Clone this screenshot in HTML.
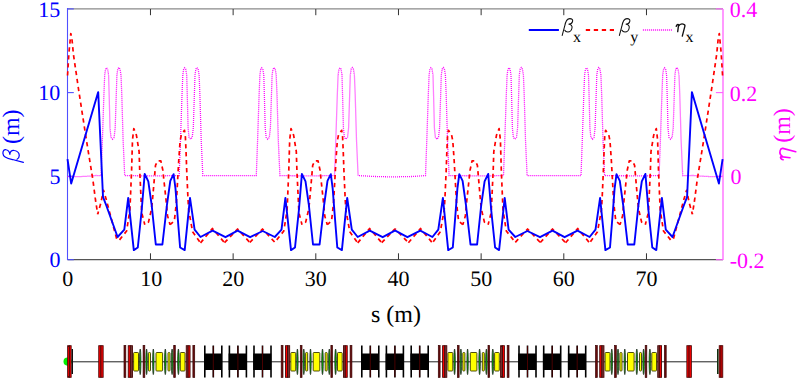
<!DOCTYPE html>
<html><head><meta charset="utf-8"><style>
html,body{margin:0;padding:0;background:#fff;width:797px;height:380px;overflow:hidden}
svg{display:block}
text{font-family:"Liberation Serif",serif;text-rendering:geometricPrecision}
</style></head><body>
<svg width="797" height="380" viewBox="0 0 797 380">
<rect width="797" height="380" fill="#fff"/>
<!-- frame -->
<line x1="67.5" y1="8.9" x2="723" y2="8.9" stroke="#8a8a8a" stroke-width="1.1"/>
<line x1="67.5" y1="259.7" x2="723" y2="259.7" stroke="#555" stroke-width="1.3"/>
<line x1="67.5" y1="8" x2="67.5" y2="260" stroke="#5050ff" stroke-width="1.1"/>
<line x1="723" y1="9" x2="723" y2="260" stroke="#ff80ff" stroke-width="1.6"/>
<line x1="150.47" y1="259.5" x2="150.47" y2="253.3" stroke="#333" stroke-width="1"/><line x1="150.47" y1="9" x2="150.47" y2="15.2" stroke="#333" stroke-width="1"/><line x1="233.13" y1="259.5" x2="233.13" y2="253.3" stroke="#333" stroke-width="1"/><line x1="233.13" y1="9" x2="233.13" y2="15.2" stroke="#333" stroke-width="1"/><line x1="315.80" y1="259.5" x2="315.80" y2="253.3" stroke="#333" stroke-width="1"/><line x1="315.80" y1="9" x2="315.80" y2="15.2" stroke="#333" stroke-width="1"/><line x1="398.47" y1="259.5" x2="398.47" y2="253.3" stroke="#333" stroke-width="1"/><line x1="398.47" y1="9" x2="398.47" y2="15.2" stroke="#333" stroke-width="1"/><line x1="481.14" y1="259.5" x2="481.14" y2="253.3" stroke="#333" stroke-width="1"/><line x1="481.14" y1="9" x2="481.14" y2="15.2" stroke="#333" stroke-width="1"/><line x1="563.80" y1="259.5" x2="563.80" y2="253.3" stroke="#333" stroke-width="1"/><line x1="563.80" y1="9" x2="563.80" y2="15.2" stroke="#333" stroke-width="1"/><line x1="646.47" y1="259.5" x2="646.47" y2="253.3" stroke="#333" stroke-width="1"/><line x1="646.47" y1="9" x2="646.47" y2="15.2" stroke="#333" stroke-width="1"/><line x1="67.5" y1="8.9" x2="73.8" y2="8.9" stroke="#5050ff" stroke-width="1.1"/><line x1="723" y1="8.9" x2="715.9" y2="8.9" stroke="#ff60ff" stroke-width="1.1"/><line x1="67.5" y1="92.6" x2="73.8" y2="92.6" stroke="#5050ff" stroke-width="1.1"/><line x1="723" y1="92.6" x2="715.9" y2="92.6" stroke="#ff60ff" stroke-width="1.1"/><line x1="67.5" y1="176.2" x2="73.8" y2="176.2" stroke="#5050ff" stroke-width="1.1"/><line x1="723" y1="176.2" x2="715.9" y2="176.2" stroke="#ff60ff" stroke-width="1.1"/><line x1="67.5" y1="259.7" x2="73.8" y2="259.7" stroke="#5050ff" stroke-width="1.1"/><line x1="723" y1="259.7" x2="715.9" y2="259.7" stroke="#ff60ff" stroke-width="1.1"/>
<!-- curves -->
<polyline points="67.5,176.7 80.0,176.6 90.0,176.1 96.0,175.5 101.1,175.6 102.4,140.0 103.9,95.0 104.7,75.0 105.5,69.5 106.5,67.8 107.6,69.0 108.6,75.0 109.3,100.0 110.0,128.0 111.0,137.5 112.5,139.2 114.1,137.5 115.2,128.0 116.1,100.0 116.9,75.0 117.8,69.0 118.9,67.5 120.0,69.0 121.0,75.0 121.8,95.0 123.1,140.0 124.7,175.6 150.5,175.9 179.2,175.6 180.5,140.0 182.0,95.0 182.8,75.0 183.6,69.5 184.6,67.8 185.7,69.0 186.7,75.0 187.4,100.0 188.1,128.0 189.1,137.5 190.6,139.2 192.2,137.5 193.3,128.0 194.2,100.0 195.0,75.0 195.9,69.0 197.0,67.5 198.1,69.0 199.1,75.0 199.9,95.0 201.2,140.0 202.8,175.6 230.5,175.7 256.3,175.6 257.6,140.0 259.1,95.0 259.9,75.0 260.7,69.5 261.7,67.8 262.8,69.0 263.8,75.0 264.5,100.0 265.2,128.0 266.2,137.5 267.7,139.2 269.3,137.5 270.4,128.0 271.3,100.0 272.1,75.0 273.0,69.0 274.1,67.5 275.2,69.0 276.2,75.0 277.0,95.0 278.3,140.0 279.9,175.6 308.0,175.9 334.5,175.6 335.8,140.0 337.3,95.0 338.1,75.0 338.9,69.5 339.9,67.8 341.0,69.0 342.0,75.0 342.7,100.0 343.4,128.0 344.4,137.5 345.9,139.2 347.5,137.5 348.6,128.0 349.5,100.0 350.3,75.0 351.2,69.0 352.3,67.5 353.4,69.0 354.4,75.0 355.2,95.0 356.5,140.0 358.1,175.6 375.0,176.5 392.0,176.9 412.0,176.5 425.5,175.6 426.8,140.0 428.3,95.0 429.1,75.0 429.9,69.5 430.9,67.8 432.0,69.0 433.0,75.0 433.7,100.0 434.4,128.0 435.4,137.5 436.9,139.2 438.5,137.5 439.6,128.0 440.5,100.0 441.3,75.0 442.2,69.0 443.3,67.5 444.4,69.0 445.4,75.0 446.2,95.0 447.5,140.0 449.1,175.6 485.0,175.9 503.5,175.6 504.8,140.0 506.3,95.0 507.1,75.0 507.9,69.5 508.9,67.8 510.0,69.0 511.0,75.0 511.7,100.0 512.4,128.0 513.4,137.5 514.9,139.2 516.5,137.5 517.6,128.0 518.5,100.0 519.3,75.0 520.2,69.0 521.3,67.5 522.4,69.0 523.4,75.0 524.2,95.0 525.5,140.0 527.1,175.6 562.0,175.7 581.0,175.6 582.3,140.0 583.8,95.0 584.6,75.0 585.4,69.5 586.4,67.8 587.5,69.0 588.5,75.0 589.2,100.0 589.9,128.0 590.9,137.5 592.4,139.2 594.0,137.5 595.1,128.0 596.0,100.0 596.8,75.0 597.7,69.0 598.8,67.5 599.9,69.0 600.9,75.0 601.7,95.0 603.0,140.0 604.6,175.6 640.0,175.9 659.1,175.6 660.4,140.0 661.9,95.0 662.7,75.0 663.5,69.5 664.5,67.8 665.6,69.0 666.6,75.0 667.3,100.0 668.0,128.0 669.0,137.5 670.5,139.2 672.1,137.5 673.2,128.0 674.1,100.0 674.9,75.0 675.8,69.0 676.9,67.5 678.0,69.0 679.0,75.0 679.8,95.0 681.1,140.0 682.7,175.6 694.0,175.5 700.0,176.1 710.0,176.6 722.5,176.7" fill="none" stroke="#ff00ff" stroke-width="1.3" stroke-dasharray="1 1"/>
<g fill="none" stroke="#ff0000" stroke-width="1.7" stroke-dasharray="4.3 3.7" stroke-linejoin="round"><polyline points="67.5,76.0 69.0,52.0 70.0,42.0 70.8,33.5 71.9,38.4 73.4,54.2 78.8,91.0 86.4,140.0 92.9,180.0 95.5,200.0 97.7,214.2" stroke-dashoffset="7.52"/><polyline points="97.7,214.2 100.8,203.2 103.5,190.3 106.1,198.9 110.8,216.8 117.6,242.3" stroke-dashoffset="1.54"/><polyline points="117.6,242.3 126.6,231.0 129.9,210.0 131.6,170.0 132.5,140.0 133.8,128.6 136.4,135.1 139.1,151.6 139.7,170.0 141.7,212.6 144.8,224.7" stroke-dashoffset="4.92"/><polyline points="144.8,224.7 148.5,222.1 151.2,210.5 152.2,203.2 155.5,165.4 157.5,161.0 160.8,160.8 162.8,170.0 166.4,203.2 167.5,215.8 170.1,224.7" stroke-dashoffset="4.27"/><polyline points="170.1,224.7 174.3,221.0 175.4,211.6 176.4,202.1 178.2,170.0 178.8,159.5 180.1,141.0 181.4,134.5 184.5,130.3 185.4,137.1 186.1,152.9 186.7,170.0 188.0,199.2 188.7,210.0 192.6,231.7 200.5,242.9" stroke-dashoffset="0.47"/><polyline points="200.5,242.9 212.4,228.5 224.5,242.7" stroke-dashoffset="0.00"/><polyline points="224.5,242.7 237.6,229.0 249.8,242.5" stroke-dashoffset="0.00"/><polyline points="249.8,242.5 262.5,229.0 274.8,242.3" stroke-dashoffset="0.00"/><polyline points="274.8,242.3 283.8,231.0 287.1,210.0 288.8,170.0 289.7,140.0 291.0,128.6 293.6,135.1 296.3,151.6 296.9,170.0 298.9,212.6 302.0,224.7" stroke-dashoffset="4.92"/><polyline points="302.0,224.7 305.7,222.1 308.4,210.5 309.4,203.2 312.7,165.4 314.7,161.0 318.0,160.8 320.0,170.0 323.6,203.2 324.7,215.8 327.3,224.7" stroke-dashoffset="4.27"/><polyline points="327.3,224.7 331.5,221.0 332.6,211.6 333.6,202.1 335.4,170.0 336.0,159.5 337.3,141.0 338.6,134.5 341.7,130.3 342.6,137.1 343.3,152.9 343.9,170.0 345.2,199.2 345.9,210.0 349.8,231.7 357.7,242.9" stroke-dashoffset="0.47"/><polyline points="357.7,242.9 369.6,228.5 381.7,242.7" stroke-dashoffset="0.00"/><polyline points="381.7,242.7 394.8,229.0 395.3,229.0 408.4,242.7" stroke-dashoffset="0.00"/><polyline points="408.4,242.7 420.5,228.5 432.4,242.9" stroke-dashoffset="0.00"/><polyline points="432.4,242.9 440.3,231.7 444.2,210.0 444.9,199.2 446.2,170.0 446.8,152.9 447.5,137.1 448.4,130.3 451.5,134.5 452.8,141.0 454.1,159.5 454.7,170.0 456.5,202.1 457.5,211.6 458.6,221.0 462.8,224.7" stroke-dashoffset="6.56"/><polyline points="462.8,224.7 465.4,215.8 466.5,203.2 470.1,170.0 472.1,160.8 475.4,161.0 477.4,165.4 480.7,203.2 481.7,210.5 484.4,222.1 488.1,224.7" stroke-dashoffset="1.42"/><polyline points="488.1,224.7 491.2,212.6 493.2,170.0 493.8,151.6 496.5,135.1 499.1,128.6 500.4,140.0 501.3,170.0 503.0,210.0 506.3,231.0 515.3,242.3" stroke-dashoffset="0.88"/><polyline points="515.3,242.3 527.6,229.0 540.3,242.5" stroke-dashoffset="0.00"/><polyline points="540.3,242.5 552.5,229.0 565.6,242.7" stroke-dashoffset="0.00"/><polyline points="565.6,242.7 577.7,228.5 589.6,242.9" stroke-dashoffset="0.00"/><polyline points="589.6,242.9 597.5,231.7 601.4,210.0 602.1,199.2 603.4,170.0 604.0,152.9 604.7,137.1 605.6,130.3 608.7,134.5 610.0,141.0 611.3,159.5 611.9,170.0 613.7,202.1 614.7,211.6 615.8,221.0 620.0,224.7" stroke-dashoffset="6.56"/><polyline points="620.0,224.7 622.6,215.8 623.7,203.2 627.3,170.0 629.3,160.8 632.6,161.0 634.6,165.4 637.9,203.2 638.9,210.5 641.6,222.1 645.3,224.7" stroke-dashoffset="1.42"/><polyline points="645.3,224.7 648.4,212.6 650.4,170.0 651.0,151.6 653.7,135.1 656.3,128.6 657.6,140.0 658.5,170.0 660.2,210.0 663.5,231.0 672.5,242.3" stroke-dashoffset="0.88"/><polyline points="672.5,242.3 679.3,216.8 684.0,198.9 686.6,190.3 689.3,203.2 692.4,214.2" stroke-dashoffset="4.27"/><polyline points="692.4,214.2 694.6,200.0 697.2,180.0 703.7,140.0 711.3,91.0 716.7,54.2 718.2,38.4 719.3,33.5 720.1,42.0 721.1,52.0 722.6,76.0" stroke-dashoffset="3.41"/></g>
<polyline points="67.5,159.1 71.2,183.6 98.2,92.1 103.0,196.8 106.3,205.5 117.6,237.0 124.3,229.7 128.2,197.9 133.8,250.1 137.8,247.5 141.7,210.0 144.7,173.9 148.3,181.4 151.6,204.5 155.8,244.5 162.4,244.5 167.0,204.5 170.3,180.8 173.6,174.2 175.5,188.7 177.5,215.0 180.1,247.5 184.7,250.1 190.0,197.9 194.6,229.7 200.5,237.0 212.6,230.7 225.5,237.2 237.6,230.7 250.1,237.2 262.7,231.0 274.8,237.0 281.5,229.7 285.4,197.9 291.0,250.1 295.0,247.5 298.9,210.0 301.9,173.9 305.5,181.4 308.8,204.5 313.0,244.5 319.6,244.5 324.2,204.5 327.5,180.8 330.8,174.2 332.7,188.7 334.7,215.0 337.3,247.5 341.9,250.1 347.2,197.9 351.8,229.7 357.7,237.0 369.8,230.7 382.7,237.2 394.8,230.7 395.3,230.7 407.4,237.2 420.3,230.7 432.4,237.0 438.3,229.7 442.9,197.9 448.2,250.1 452.8,247.5 455.4,215.0 457.4,188.7 459.3,174.2 462.6,180.8 465.9,204.5 470.5,244.5 477.1,244.5 481.3,204.5 484.6,181.4 488.2,173.9 491.2,210.0 495.1,247.5 499.1,250.1 504.7,197.9 508.6,229.7 515.3,237.0 527.4,231.0 540.0,237.2 552.5,230.7 564.6,237.2 577.5,230.7 589.6,237.0 595.5,229.7 600.1,197.9 605.4,250.1 610.0,247.5 612.6,215.0 614.6,188.7 616.5,174.2 619.8,180.8 623.1,204.5 627.7,244.5 634.3,244.5 638.5,204.5 641.8,181.4 645.4,173.9 648.4,210.0 652.3,247.5 656.3,250.1 661.9,197.9 665.8,229.7 672.5,237.0 683.8,205.5 687.1,196.8 691.9,92.1 718.9,183.6 722.6,159.1" fill="none" stroke="#0000ff" stroke-width="1.9" stroke-linejoin="round"/>
<!-- legend -->
<line x1="528.8" y1="30" x2="558.9" y2="30" stroke="#0000ff" stroke-width="2"/>
<line x1="585.8" y1="30" x2="614" y2="30" stroke="#ff0000" stroke-width="2" stroke-dasharray="4.3 3.7"/>
<line x1="642.9" y1="30" x2="672.6" y2="30" stroke="#ff00ff" stroke-width="1.3" stroke-dasharray="1 1"/>
<g fill="none" stroke="#111" stroke-width="1.05" stroke-linecap="round">
<path transform="translate(562,31.8)" d="M0.2,3.6 L2.6,-5.3 C3.3,-9.3 4.8,-13.2 7.8,-13.2 C10,-13.2 11,-12 10.6,-10.5 C10.2,-8.8 8.5,-7.6 6.5,-7.5 C9,-7.6 10.5,-6 10,-3.8 C9.5,-1.3 7.5,0.2 5.8,0.2 C4.3,0.2 3.2,-0.6 2.8,-1.6"/>
<path transform="translate(619.2,31.8)" d="M0.2,3.6 L2.6,-5.3 C3.3,-9.3 4.8,-13.2 7.8,-13.2 C10,-13.2 11,-12 10.6,-10.5 C10.2,-8.8 8.5,-7.6 6.5,-7.5 C9,-7.6 10.5,-6 10,-3.8 C9.5,-1.3 7.5,0.2 5.8,0.2 C4.3,0.2 3.2,-0.6 2.8,-1.6"/>
<path transform="translate(676.2,31.7)" d="M0,-5.3 C0.4,-7 1.8,-7.8 2.4,-7 L1.5,0 M2.3,-5.5 C3.5,-7.5 5.5,-8 7,-7.6 C8.5,-7.2 8.9,-6.3 8.7,-5.5 L6.1,4.4" stroke-width="1.35"/>
</g>
<g font-size="16" fill="#000">
<text x="573" y="41.5">x</text><text x="630.2" y="41.5">y</text><text x="685.5" y="41.5">x</text>
</g>
<!-- tick labels -->
<g font-size="22" fill="#000"><text x="67.80" y="286.3" text-anchor="middle">0</text><text x="151.27" y="286.3" text-anchor="middle">10</text><text x="233.13" y="286.3" text-anchor="middle">20</text><text x="315.80" y="286.3" text-anchor="middle">30</text><text x="398.47" y="286.3" text-anchor="middle">40</text><text x="481.14" y="286.3" text-anchor="middle">50</text><text x="563.80" y="286.3" text-anchor="middle">60</text><text x="646.47" y="286.3" text-anchor="middle">70</text></g>
<g font-size="22" fill="#0000ff" text-anchor="end">
<text x="60.3" y="16.6">15</text><text x="60.3" y="100.2">10</text><text x="60.6" y="183.6">5</text><text x="60.6" y="267.4">0</text>
</g>
<g font-size="22" fill="#ff00ff">
<text x="729.8" y="17">0.4</text><text x="729.8" y="100.6">0.2</text><text x="730.6" y="184">0</text><text x="729.8" y="267.5">-0.2</text>
</g>
<text x="370.9" y="322.2" font-size="24" fill="#000">s (m)</text>
<g transform="translate(19,162.7) rotate(-90)">
<path transform="scale(1.22)" d="M0.2,3.6 L2.6,-5.3 C3.3,-9.3 4.8,-13.2 7.8,-13.2 C10,-13.2 11,-12 10.6,-10.5 C10.2,-8.8 8.5,-7.6 6.5,-7.5 C9,-7.6 10.5,-6 10,-3.8 C9.5,-1.3 7.5,0.2 5.8,0.2 C4.3,0.2 3.2,-0.6 2.8,-1.6" fill="none" stroke="#0000ff" stroke-width="1.0" stroke-linecap="round"/>
<text x="18.6" y="0" font-size="24" fill="#0000ff">(m)</text>
</g>
<g transform="translate(790,159.7) rotate(-90)">
<path transform="scale(1.3)" d="M0,-5.3 C0.4,-7 1.8,-7.8 2.4,-7 L1.5,0 M2.3,-5.5 C3.5,-7.5 5.5,-8 7,-7.6 C8.5,-7.2 8.9,-6.3 8.7,-5.5 L6.1,4.4" fill="none" stroke="#ff00ff" stroke-width="1.25" stroke-linecap="round"/>
<text x="16.9" y="0" font-size="24" fill="#ff00ff">(m)</text>
</g>
<!-- lattice -->
<line x1="67" y1="361.8" x2="718" y2="361.8" stroke="#222" stroke-width="1"/>
<circle cx="67.6" cy="361.6" r="4.1" fill="#00ee00"/>
<rect x="67.65" y="345.7" width="1.75" height="31.6" fill="#ff0000" stroke="#4a0808" stroke-width="0.9"/>
<rect x="69.40" y="345.7" width="1.75" height="31.6" fill="#ff0000" stroke="#4a0808" stroke-width="0.9"/>
<rect x="71.6" y="349" width="1.4" height="25" fill="#101010"/>
<rect x="98.75" y="345.7" width="2.20" height="31.6" fill="#ff0000" stroke="#4a0808" stroke-width="0.9"/>
<rect x="100.95" y="345.7" width="2.20" height="31.6" fill="#ff0000" stroke="#4a0808" stroke-width="0.9"/>
<rect x="124.0" y="345.5" width="1.8" height="32" fill="#6a0c0c" stroke="#3a0404" stroke-width="0.7"/>
<rect x="128.25" y="345.7" width="2.10" height="31.6" fill="#ff0000" stroke="#4a0808" stroke-width="0.9"/>
<rect x="130.35" y="345.7" width="2.10" height="31.6" fill="#6e3434" stroke="#4a0808" stroke-width="0.9"/>
<rect x="133.6" y="352.5" width="4.9" height="18.5" fill="#ffff00" stroke="#3a3a00" stroke-width="0.9" rx="0.8"/>
<ellipse cx="140.2" cy="361.8" rx="0.75" ry="12.8" fill="#00b400" stroke="#1a1a1a" stroke-width="0.7"/>
<rect x="143.1" y="345.5" width="1.7" height="32" fill="#6a0c0c" stroke="#3a0404" stroke-width="0.7"/>
<ellipse cx="146.6" cy="361.8" rx="0.75" ry="12.8" fill="#00b400" stroke="#1a1a1a" stroke-width="0.7"/>
<rect x="148.4" y="352.5" width="2.1" height="18.5" fill="#ffff00" stroke="#3a3a00" stroke-width="0.9" rx="0.8"/>
<ellipse cx="153.3" cy="361.8" rx="0.70" ry="12.8" fill="#00b400" stroke="#1a1a1a" stroke-width="0.7"/>
<rect x="156.0" y="352.5" width="6.6" height="18.5" fill="#ffff00" stroke="#3a3a00" stroke-width="0.9" rx="0.8"/>
<ellipse cx="165.3" cy="361.8" rx="0.80" ry="12.8" fill="#00b400" stroke="#1a1a1a" stroke-width="0.7"/>
<rect x="168.0" y="352.5" width="2.0" height="18.5" fill="#ffff00" stroke="#3a3a00" stroke-width="0.9" rx="0.8"/>
<ellipse cx="172.1" cy="361.8" rx="0.80" ry="12.8" fill="#00b400" stroke="#1a1a1a" stroke-width="0.7"/>
<rect x="173.7" y="345.5" width="1.6" height="32" fill="#6a0c0c" stroke="#3a0404" stroke-width="0.7"/>
<ellipse cx="178.4" cy="361.8" rx="0.80" ry="12.8" fill="#00b400" stroke="#1a1a1a" stroke-width="0.7"/>
<rect x="180.3" y="352.5" width="4.7" height="18.5" fill="#ffff00" stroke="#3a3a00" stroke-width="0.9" rx="0.8"/>
<rect x="186.25" y="345.7" width="1.90" height="31.6" fill="#6e3434" stroke="#4a0808" stroke-width="0.9"/>
<rect x="188.15" y="345.7" width="1.90" height="31.6" fill="#ff0000" stroke="#4a0808" stroke-width="0.9"/>
<rect x="192.9" y="345.5" width="1.8" height="32" fill="#6a0c0c" stroke="#3a0404" stroke-width="0.7"/>
<rect x="281.2" y="345.5" width="1.8" height="32" fill="#6a0c0c" stroke="#3a0404" stroke-width="0.7"/>
<rect x="285.45" y="345.7" width="2.10" height="31.6" fill="#ff0000" stroke="#4a0808" stroke-width="0.9"/>
<rect x="287.55" y="345.7" width="2.10" height="31.6" fill="#6e3434" stroke="#4a0808" stroke-width="0.9"/>
<rect x="290.8" y="352.5" width="4.9" height="18.5" fill="#ffff00" stroke="#3a3a00" stroke-width="0.9" rx="0.8"/>
<ellipse cx="297.4" cy="361.8" rx="0.75" ry="12.8" fill="#00b400" stroke="#1a1a1a" stroke-width="0.7"/>
<rect x="300.3" y="345.5" width="1.7" height="32" fill="#6a0c0c" stroke="#3a0404" stroke-width="0.7"/>
<ellipse cx="303.8" cy="361.8" rx="0.75" ry="12.8" fill="#00b400" stroke="#1a1a1a" stroke-width="0.7"/>
<rect x="305.6" y="352.5" width="2.1" height="18.5" fill="#ffff00" stroke="#3a3a00" stroke-width="0.9" rx="0.8"/>
<ellipse cx="310.5" cy="361.8" rx="0.70" ry="12.8" fill="#00b400" stroke="#1a1a1a" stroke-width="0.7"/>
<rect x="313.2" y="352.5" width="6.6" height="18.5" fill="#ffff00" stroke="#3a3a00" stroke-width="0.9" rx="0.8"/>
<ellipse cx="322.5" cy="361.8" rx="0.80" ry="12.8" fill="#00b400" stroke="#1a1a1a" stroke-width="0.7"/>
<rect x="325.2" y="352.5" width="2.0" height="18.5" fill="#ffff00" stroke="#3a3a00" stroke-width="0.9" rx="0.8"/>
<ellipse cx="329.3" cy="361.8" rx="0.80" ry="12.8" fill="#00b400" stroke="#1a1a1a" stroke-width="0.7"/>
<rect x="330.9" y="345.5" width="1.6" height="32" fill="#6a0c0c" stroke="#3a0404" stroke-width="0.7"/>
<ellipse cx="335.6" cy="361.8" rx="0.80" ry="12.8" fill="#00b400" stroke="#1a1a1a" stroke-width="0.7"/>
<rect x="337.5" y="352.5" width="4.7" height="18.5" fill="#ffff00" stroke="#3a3a00" stroke-width="0.9" rx="0.8"/>
<rect x="343.45" y="345.7" width="1.90" height="31.6" fill="#6e3434" stroke="#4a0808" stroke-width="0.9"/>
<rect x="345.35" y="345.7" width="1.90" height="31.6" fill="#ff0000" stroke="#4a0808" stroke-width="0.9"/>
<rect x="350.1" y="345.5" width="1.8" height="32" fill="#6a0c0c" stroke="#3a0404" stroke-width="0.7"/>
<rect x="438.3" y="345.5" width="1.8" height="32" fill="#6a0c0c" stroke="#3a0404" stroke-width="0.7"/>
<rect x="442.60" y="345.7" width="2.10" height="31.6" fill="#ff0000" stroke="#4a0808" stroke-width="0.9"/>
<rect x="444.70" y="345.7" width="2.10" height="31.6" fill="#6e3434" stroke="#4a0808" stroke-width="0.9"/>
<rect x="447.9" y="352.5" width="4.9" height="18.5" fill="#ffff00" stroke="#3a3a00" stroke-width="0.9" rx="0.8"/>
<ellipse cx="454.6" cy="361.8" rx="0.75" ry="12.8" fill="#00b400" stroke="#1a1a1a" stroke-width="0.7"/>
<rect x="457.4" y="345.5" width="1.7" height="32" fill="#6a0c0c" stroke="#3a0404" stroke-width="0.7"/>
<ellipse cx="460.9" cy="361.8" rx="0.75" ry="12.8" fill="#00b400" stroke="#1a1a1a" stroke-width="0.7"/>
<rect x="462.8" y="352.5" width="2.1" height="18.5" fill="#ffff00" stroke="#3a3a00" stroke-width="0.9" rx="0.8"/>
<ellipse cx="467.6" cy="361.8" rx="0.70" ry="12.8" fill="#00b400" stroke="#1a1a1a" stroke-width="0.7"/>
<rect x="470.3" y="352.5" width="6.6" height="18.5" fill="#ffff00" stroke="#3a3a00" stroke-width="0.9" rx="0.8"/>
<ellipse cx="479.6" cy="361.8" rx="0.80" ry="12.8" fill="#00b400" stroke="#1a1a1a" stroke-width="0.7"/>
<rect x="482.3" y="352.5" width="2.0" height="18.5" fill="#ffff00" stroke="#3a3a00" stroke-width="0.9" rx="0.8"/>
<ellipse cx="486.4" cy="361.8" rx="0.80" ry="12.8" fill="#00b400" stroke="#1a1a1a" stroke-width="0.7"/>
<rect x="488.0" y="345.5" width="1.6" height="32" fill="#6a0c0c" stroke="#3a0404" stroke-width="0.7"/>
<ellipse cx="492.8" cy="361.8" rx="0.80" ry="12.8" fill="#00b400" stroke="#1a1a1a" stroke-width="0.7"/>
<rect x="494.6" y="352.5" width="4.7" height="18.5" fill="#ffff00" stroke="#3a3a00" stroke-width="0.9" rx="0.8"/>
<rect x="500.60" y="345.7" width="1.90" height="31.6" fill="#6e3434" stroke="#4a0808" stroke-width="0.9"/>
<rect x="502.50" y="345.7" width="1.90" height="31.6" fill="#ff0000" stroke="#4a0808" stroke-width="0.9"/>
<rect x="507.2" y="345.5" width="1.8" height="32" fill="#6a0c0c" stroke="#3a0404" stroke-width="0.7"/>
<rect x="595.5" y="345.5" width="1.8" height="32" fill="#6a0c0c" stroke="#3a0404" stroke-width="0.7"/>
<rect x="599.75" y="345.7" width="2.10" height="31.6" fill="#ff0000" stroke="#4a0808" stroke-width="0.9"/>
<rect x="601.85" y="345.7" width="2.10" height="31.6" fill="#6e3434" stroke="#4a0808" stroke-width="0.9"/>
<rect x="605.1" y="352.5" width="4.9" height="18.5" fill="#ffff00" stroke="#3a3a00" stroke-width="0.9" rx="0.8"/>
<ellipse cx="611.8" cy="361.8" rx="0.75" ry="12.8" fill="#00b400" stroke="#1a1a1a" stroke-width="0.7"/>
<rect x="614.6" y="345.5" width="1.7" height="32" fill="#6a0c0c" stroke="#3a0404" stroke-width="0.7"/>
<ellipse cx="618.0" cy="361.8" rx="0.75" ry="12.8" fill="#00b400" stroke="#1a1a1a" stroke-width="0.7"/>
<rect x="619.9" y="352.5" width="2.1" height="18.5" fill="#ffff00" stroke="#3a3a00" stroke-width="0.9" rx="0.8"/>
<ellipse cx="624.8" cy="361.8" rx="0.70" ry="12.8" fill="#00b400" stroke="#1a1a1a" stroke-width="0.7"/>
<rect x="627.5" y="352.5" width="6.6" height="18.5" fill="#ffff00" stroke="#3a3a00" stroke-width="0.9" rx="0.8"/>
<ellipse cx="636.8" cy="361.8" rx="0.80" ry="12.8" fill="#00b400" stroke="#1a1a1a" stroke-width="0.7"/>
<rect x="639.5" y="352.5" width="2.0" height="18.5" fill="#ffff00" stroke="#3a3a00" stroke-width="0.9" rx="0.8"/>
<ellipse cx="643.6" cy="361.8" rx="0.80" ry="12.8" fill="#00b400" stroke="#1a1a1a" stroke-width="0.7"/>
<rect x="645.2" y="345.5" width="1.6" height="32" fill="#6a0c0c" stroke="#3a0404" stroke-width="0.7"/>
<ellipse cx="649.9" cy="361.8" rx="0.80" ry="12.8" fill="#00b400" stroke="#1a1a1a" stroke-width="0.7"/>
<rect x="651.8" y="352.5" width="4.7" height="18.5" fill="#ffff00" stroke="#3a3a00" stroke-width="0.9" rx="0.8"/>
<rect x="657.75" y="345.7" width="1.90" height="31.6" fill="#6e3434" stroke="#4a0808" stroke-width="0.9"/>
<rect x="659.65" y="345.7" width="1.90" height="31.6" fill="#ff0000" stroke="#4a0808" stroke-width="0.9"/>
<rect x="664.4" y="345.5" width="1.8" height="32" fill="#6a0c0c" stroke="#3a0404" stroke-width="0.7"/>
<rect x="204.0" y="353.5" width="18" height="16.5" fill="#000"/>
<rect x="204.0" y="345.5" width="1.6" height="32" fill="#000"/>
<rect x="212.5" y="345.5" width="1.6" height="32" fill="#000"/>
<rect x="221.0" y="345.5" width="1.6" height="32" fill="#000"/>
<line x1="213.3" y1="346" x2="213.3" y2="377" stroke="#5a0000" stroke-width="0.8"/>
<rect x="228.6" y="353.5" width="18" height="16.5" fill="#000"/>
<rect x="228.6" y="345.5" width="1.6" height="32" fill="#000"/>
<rect x="237.1" y="345.5" width="1.6" height="32" fill="#000"/>
<rect x="245.6" y="345.5" width="1.6" height="32" fill="#000"/>
<line x1="237.9" y1="346" x2="237.9" y2="377" stroke="#5a0000" stroke-width="0.8"/>
<rect x="253.2" y="353.5" width="18" height="16.5" fill="#000"/>
<rect x="253.2" y="345.5" width="1.6" height="32" fill="#000"/>
<rect x="261.7" y="345.5" width="1.6" height="32" fill="#000"/>
<rect x="270.2" y="345.5" width="1.6" height="32" fill="#000"/>
<line x1="262.5" y1="346" x2="262.5" y2="377" stroke="#5a0000" stroke-width="0.8"/>
<rect x="361.0" y="353.5" width="18" height="16.5" fill="#000"/>
<rect x="361.0" y="345.5" width="1.6" height="32" fill="#000"/>
<rect x="369.5" y="345.5" width="1.6" height="32" fill="#000"/>
<rect x="378.0" y="345.5" width="1.6" height="32" fill="#000"/>
<line x1="370.3" y1="346" x2="370.3" y2="377" stroke="#5a0000" stroke-width="0.8"/>
<rect x="385.6" y="353.5" width="18" height="16.5" fill="#000"/>
<rect x="385.6" y="345.5" width="1.6" height="32" fill="#000"/>
<rect x="394.1" y="345.5" width="1.6" height="32" fill="#000"/>
<rect x="402.6" y="345.5" width="1.6" height="32" fill="#000"/>
<line x1="394.9" y1="346" x2="394.9" y2="377" stroke="#5a0000" stroke-width="0.8"/>
<rect x="410.4" y="353.5" width="18" height="16.5" fill="#000"/>
<rect x="410.4" y="345.5" width="1.6" height="32" fill="#000"/>
<rect x="418.9" y="345.5" width="1.6" height="32" fill="#000"/>
<rect x="427.4" y="345.5" width="1.6" height="32" fill="#000"/>
<line x1="419.7" y1="346" x2="419.7" y2="377" stroke="#5a0000" stroke-width="0.8"/>
<rect x="518.2" y="353.5" width="18" height="16.5" fill="#000"/>
<rect x="518.2" y="345.5" width="1.6" height="32" fill="#000"/>
<rect x="526.7" y="345.5" width="1.6" height="32" fill="#000"/>
<rect x="535.2" y="345.5" width="1.6" height="32" fill="#000"/>
<line x1="527.5" y1="346" x2="527.5" y2="377" stroke="#5a0000" stroke-width="0.8"/>
<rect x="542.9" y="353.5" width="18" height="16.5" fill="#000"/>
<rect x="542.9" y="345.5" width="1.6" height="32" fill="#000"/>
<rect x="551.4" y="345.5" width="1.6" height="32" fill="#000"/>
<rect x="559.9" y="345.5" width="1.6" height="32" fill="#000"/>
<line x1="552.2" y1="346" x2="552.2" y2="377" stroke="#5a0000" stroke-width="0.8"/>
<rect x="567.9" y="353.5" width="18" height="16.5" fill="#000"/>
<rect x="567.9" y="345.5" width="1.6" height="32" fill="#000"/>
<rect x="576.4" y="345.5" width="1.6" height="32" fill="#000"/>
<rect x="584.9" y="345.5" width="1.6" height="32" fill="#000"/>
<line x1="577.2" y1="346" x2="577.2" y2="377" stroke="#5a0000" stroke-width="0.8"/>
<rect x="686.85" y="345.7" width="2.25" height="31.6" fill="#ff0000" stroke="#4a0808" stroke-width="0.9"/>
<rect x="689.10" y="345.7" width="2.25" height="31.6" fill="#ff0000" stroke="#4a0808" stroke-width="0.9"/>
<rect x="717" y="349" width="1.6" height="25" fill="#103010"/>
<rect x="719.25" y="345.7" width="1.75" height="31.6" fill="#ff0000" stroke="#4a0808" stroke-width="0.9"/>
<rect x="721.00" y="345.7" width="1.75" height="31.6" fill="#ff0000" stroke="#4a0808" stroke-width="0.9"/>
</svg>
</body></html>
